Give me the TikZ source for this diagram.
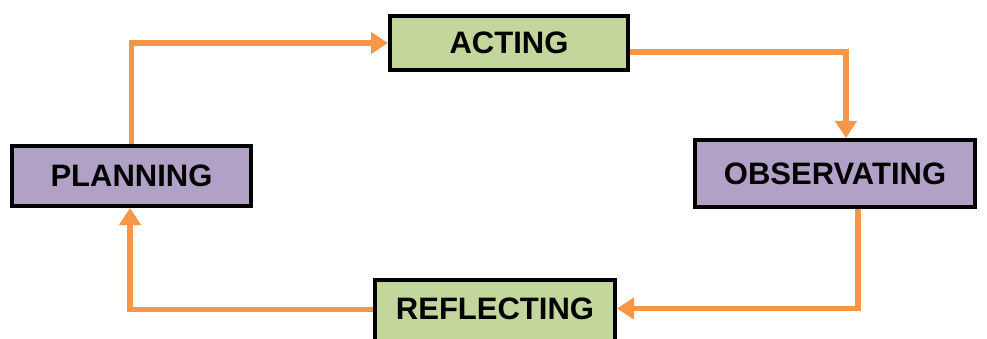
\documentclass[tikz,border=0pt]{standalone}
\usepackage{fontspec}
\setmainfont{Liberation Sans}
\usetikzlibrary{arrows.meta,calc}

\definecolor{boxgreen}{RGB}{195,214,155}
\definecolor{boxlilac}{RGB}{178,161,199}
\definecolor{flow}{RGB}{247,150,70}

\tikzset{
  stagebox/.style={draw=black, line width=4pt, inner sep=0pt, font=\bfseries\fontsize{31}{31}\selectfont},
  flowline/.style={draw=flow, line width=5.5pt, -{Triangle[length=17pt,width=21pt]}},
}

\begin{document}
\begin{tikzpicture}[x=1pt,y=1pt,yscale=-1,xscale=1]
                \clip (0,0) rectangle (987,339);
                
                %Shape: Rectangle [id:acting]
                \node [stagebox, fill=boxgreen, minimum width=238pt, minimum height=54pt] (acting) at (509,43) {ACTING};
                %Shape: Rectangle [id:planning]
                \node [stagebox, fill=boxlilac, minimum width=239pt, minimum height=60pt] (planning) at (131.5,176) {PLANNING};
                %Shape: Rectangle [id:observating]
                \node [stagebox, fill=boxlilac, minimum width=280pt, minimum height=67pt] (observating) at (835,173.5) {OBSERVATING};
                %Shape: Rectangle [id:reflecting]
                \node [stagebox, fill=boxgreen, minimum width=240pt, text height=39pt, text depth=30pt, anchor=north] (reflecting) at (495,278) {REFLECTING};
                
                %Straight Lines [id:plan-act]
                \draw [flowline] (planning.north) |- (acting.west) ;
                %Straight Lines [id:act-obs]
                \draw [flowline] ([yshift=9pt]acting.east) -| ([xshift=11pt]observating.north) ;
                %Straight Lines [id:obs-ref]
                \draw [flowline] ([xshift=23pt]observating.south) |- ([yshift=-6pt]reflecting.east) ;
                %Straight Lines [id:ref-plan]
                \draw [flowline] ([yshift=-5pt]reflecting.west) -| ([xshift=-1.5pt]planning.south) ;
                
\end{tikzpicture}
\end{document}
